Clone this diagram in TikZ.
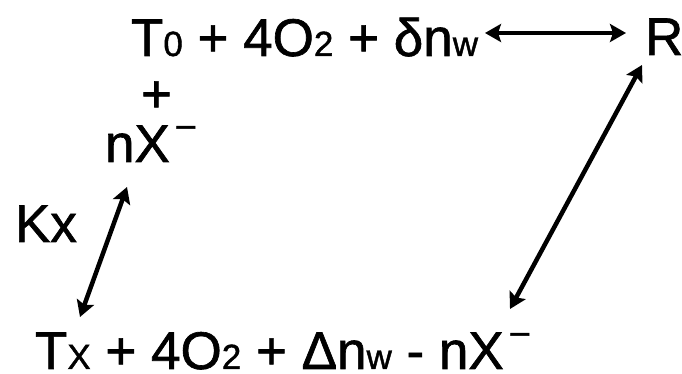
\documentclass[tikz,border=0pt]{standalone}
\usepackage{fontspec}
\setmainfont{Liberation Sans}[FakeBold=1.2]
\usetikzlibrary{arrows.meta}
\newcommand{\bigf}{\fontsize{53}{60}\selectfont}
\newcommand{\subf}[1]{{\fontsize{35}{40}\selectfont #1}}
\newcommand{\supm}{\hspace{5pt}\raisebox{22pt}{\fontsize{38}{40}\selectfont −}}
\tikzset{
  txt/.style={inner sep=0pt, outer sep=0pt, anchor=base west, font=\bigf},
  dbl/.style={line width=4.5pt, {Stealth[length=16pt,width=18pt,inset=3pt]}-{Stealth[length=16pt,width=18pt,inset=3pt]}}
}
\begin{document}
\begin{tikzpicture}[x=1pt,y=1pt]
\useasboundingbox (0,0) rectangle (682,374);
\fill[white] (0,0) rectangle (682,374);
% texts (baselines, y flipped)
\node[txt] (top) at (131,318) {T\subf{0} + 4O\subf{2} + δn\subf{w}};
\node[txt] (R) at (645,319) {R};
\node[txt] (plus) at (141,262) {+};
\node[txt] (nx) at (105,212) {nX\supm};
\node[txt] (kx) at (15,132) {Kx};
\node[txt] (bot) at (35,5) {T\subf{X} + 4O\subf{2} + Δn\subf{w} - nX\supm};
% arrow end points
\coordinate (h1) at (485,341);
\coordinate (h2) at (626,341);
\coordinate (d1) at (642,309);
\coordinate (d2) at (510,65);
\coordinate (k1) at (127,187);
\coordinate (k2) at (80,57);
\draw[dbl] (h1) -- (h2);
\draw[dbl] (d1) -- (d2);
\draw[dbl] (k1) -- (k2);
\end{tikzpicture}
\end{document}
